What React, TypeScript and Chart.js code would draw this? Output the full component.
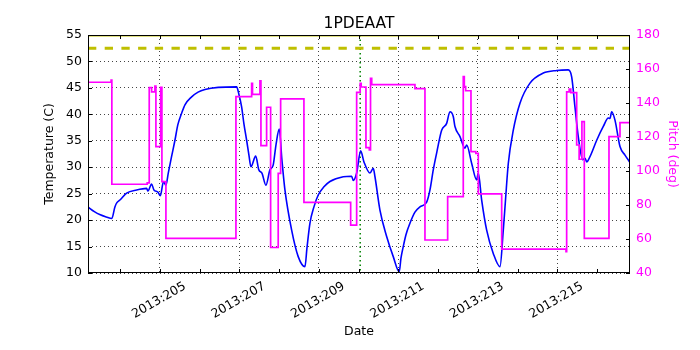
import { useEffect, useRef } from 'react';
import { Chart, registerables } from 'chart.js';

Chart.register(...registerables);

// ---- data ----
const chartTitle = '1PDEAAT';
const xRange = [203.19, 216.83];
const majorDays = [205, 207, 209, 211, 213, 215];
const minorDays = [204, 205, 206, 207, 208, 209, 210, 211, 212, 213, 214, 215, 216];
const tempTicks = [10, 15, 20, 25, 30, 35, 40, 45, 50, 55];
const pitchTicks = [40, 60, 80, 100, 120, 140, 160, 180];
const limitSolid = [55];
const limitDashed = [52.5];
const markerDays = [210.04];

const tempDays = [
  203.188, 203.35, 203.5, 203.65, 203.79, 203.867, 203.918, 203.993, 204.162, 204.414,
  204.665, 204.698, 204.791, 204.849, 204.95, 205.01, 205.09, 205.15, 205.21, 205.29,
  205.378, 205.45, 205.546, 205.63, 205.798, 205.96, 206.133, 206.467, 206.93, 206.99,
  207.056, 207.114, 207.182, 207.24, 207.29, 207.41, 207.49, 207.567, 207.668, 207.769,
  207.85, 207.92, 208.003, 208.07, 208.146, 208.315, 208.48, 208.65, 208.70, 208.775,
  208.876, 208.984, 209.128, 209.279, 209.614, 209.825, 209.866, 209.951, 210.052, 210.135,
  210.286, 210.369, 210.412, 210.537, 210.706, 210.872, 211.023, 211.066, 211.124, 211.19,
  211.292, 211.418, 211.544, 211.713, 211.796, 211.879, 211.97, 212.09, 212.216, 212.299,
  212.382, 212.425, 212.551, 212.677, 212.72, 212.846, 212.971, 213.012, 213.097, 213.223,
  213.389, 213.558, 213.641, 213.697, 213.767, 213.893, 214.061, 214.313, 214.648, 214.985,
  215.277, 215.362, 215.445, 215.528, 215.639, 215.697, 215.74, 215.823, 215.992, 216.158,
  216.284, 216.326, 216.369, 216.452, 216.578, 216.704, 216.83,
];
const tempValues = [
  22.5, 21.6, 21.0, 20.6, 20.3, 22.5, 23.3, 23.8, 25.1, 25.7,
  26.0, 25.5, 26.8, 25.7, 25.3, 24.6, 27.3, 26.6, 28.9, 31.9,
  35.1, 38.0, 40.2, 41.8, 43.3, 44.2, 44.7, 45.1, 45.2, 43.7,
  41.4, 38.2, 35.1, 32.3, 30.1, 32.1, 29.5, 28.9, 26.6, 29.5,
  30.4, 34.2, 37.2, 31.4, 25.7, 18.1, 13.1, 11.2, 14.7, 19.4,
  22.5, 24.75, 26.3, 27.3, 28.2, 28.3, 27.5, 28.9, 33.1, 31.0,
  28.9, 29.8, 28.2, 21.9, 16.9, 13.1, 10.25, 12.8, 15.0, 17.2,
  19.4, 21.5, 22.5, 23.4, 25.7, 29.5, 32.9, 37.0, 38.3, 40.5,
  39.6, 37.7, 35.8, 33.6, 34.2, 30.7, 27.6, 28.9, 23.8, 18.1,
  13.7, 11.2, 18.1, 23.8, 30.7, 37.0, 42.1, 45.9, 47.8, 48.3,
  48.4, 47.1, 41.4, 35.8, 31.4, 31.7, 31.0, 32.0, 35.1, 37.7,
  39.3, 39.2, 40.5, 38.9, 33.9, 32.3, 30.9,
];

const pitchDays = [
  203.188, 203.772, 203.79, 204.68, 204.731, 204.791, 204.874, 204.899, 205.018, 205.05,
  205.151, 206.913, 207.308, 207.33, 207.517, 207.542, 207.685, 207.786, 207.977, 208.038,
  208.624, 209.8, 209.951, 210.04, 210.065, 210.185, 210.27, 210.3, 210.33, 211.418,
  211.67, 212.241, 212.634, 212.66, 212.694, 212.828, 212.95, 213.012, 213.601, 215.22,
  215.236, 215.3, 215.34, 215.488, 215.55, 215.62, 215.68, 216.301, 216.578, 216.83,
];
const pitchValues = [
  152.2, 153.5, 92.2, 93.0, 149.0, 146.6, 150.0, 114.3, 149.2, 93.7,
  60.4, 143.7, 151.6, 145.1, 153.0, 114.9, 137.5, 55.0, 98.6, 142.4,
  81.5, 68.2, 146.3, 151.6, 149.4, 113.8, 112.4, 154.5, 150.8, 148.4,
  59.4, 84.9, 155.5, 149.6, 147.2, 111.4, 110.4, 86.5, 54.1, 52.5,
  146.6, 148.2, 146.1, 115.3, 106.9, 129.0, 60.4, 120.2, 128.4, 128.4,
];

const FONT = 'DejaVu Sans';

const decorPlugin = {
  id: 'decor',
  beforeDatasetsDraw(chart: any) {
    const { ctx, chartArea: a, scales } = chart;
    const x = scales.x;
    ctx.save();
    ctx.strokeStyle = '#008000';
    ctx.lineWidth = 1.5;
    ctx.setLineDash([1.5, 3]);
    markerDays.forEach((d) => {
      const px = x.getPixelForValue(d);
      ctx.beginPath();
      ctx.moveTo(px, a.top);
      ctx.lineTo(px, a.bottom);
      ctx.stroke();
    });
    ctx.restore();
  },
  afterDatasetsDraw(chart: any) {
    const { ctx, chartArea: a, scales } = chart;
    ctx.save();
    ctx.strokeStyle = '#000';
    ctx.lineWidth = 1;
    ctx.setLineDash([]);
    ctx.strokeRect(Math.round(a.left) + 0.5, Math.round(a.top) + 0.5, Math.round(a.right - a.left) - 1, Math.round(a.bottom - a.top) - 1);
    const tl = 4;
    ctx.beginPath();
    minorDays.forEach((d) => {
      const px = Math.round(scales.x.getPixelForValue(d)) + 0.5;
      ctx.moveTo(px, a.bottom);
      ctx.lineTo(px, a.bottom - tl);
      ctx.moveTo(px, a.top);
      ctx.lineTo(px, a.top + tl);
    });
    tempTicks.forEach((v) => {
      const py = Math.round(scales.y.getPixelForValue(v)) + 0.5;
      ctx.moveTo(a.left, py);
      ctx.lineTo(a.left + tl, py);
    });
    pitchTicks.forEach((v) => {
      const py = Math.round(scales.y2.getPixelForValue(v)) + 0.5;
      ctx.moveTo(a.right, py);
      ctx.lineTo(a.right - tl, py);
    });
    ctx.stroke();
    // title
    ctx.fillStyle = '#000';
    ctx.font = `15.5px "${FONT}"`;
    ctx.textAlign = 'center';
    ctx.textBaseline = 'alphabetic';
    ctx.fillText(chartTitle, (a.left + a.right) / 2, 28.3);
    ctx.restore();
  },
};

export default function App() {
  const ref = useRef<HTMLCanvasElement | null>(null);

  useEffect(() => {
    document.body.style.margin = '0';
    const canvas = ref.current;
    if (!canvas) return;
    const xMin = xRange[0];
    const xMax = xRange[1];
    const chart = new Chart(canvas, {
      type: 'line',
      data: {
        datasets: [
          {
            label: 'Pitch',
            data: pitchDays.map((d, i) => ({ x: d, y: pitchValues[i] })),
            yAxisID: 'y2',
            borderColor: '#ff00ff',
            borderWidth: 1.7,
            pointRadius: 0,
            stepped: 'before',
            fill: false,
          },
          {
            label: 'Temperature',
            data: tempDays.map((d, i) => ({ x: d, y: tempValues[i] })),
            yAxisID: 'y',
            borderColor: '#0000ff',
            borderWidth: 1.6,
            pointRadius: 0,
            cubicInterpolationMode: 'monotone',
            fill: false,
          },
          {
            label: 'limit',
            data: limitSolid.flatMap((v) => [{ x: xMin, y: v }, { x: xMax, y: v }]),
            yAxisID: 'y',
            borderColor: '#bfbf00',
            borderWidth: 3,
            pointRadius: 0,
            fill: false,
          },
          {
            label: 'limit dashed',
            data: limitDashed.flatMap((v) => [{ x: xMin, y: v }, { x: xMax, y: v }]),
            yAxisID: 'y',
            borderColor: '#bfbf00',
            borderWidth: 3,
            borderDash: [8.3, 8.4],
            pointRadius: 0,
            fill: false,
          },
        ],
      },
      options: {
        animation: false,
        responsive: false,
        maintainAspectRatio: false,
        events: [],
        layout: { padding: { top: 35, left: 0, right: 0, bottom: 0 } },
        plugins: {
          legend: { display: false },
          tooltip: { enabled: false },
          title: { display: false },
        },
        scales: {
          x: {
            type: 'linear',
            min: xMin,
            max: xMax,
            afterBuildTicks: (s: any) => {
              s.ticks = majorDays.map((v) => ({ value: v }));
            },
            afterFit: (s: any) => {
              s.height = 77;
            },
            grid: { color: '#444', lineWidth: 1, drawTicks: false, tickBorderDash: [] },
            border: { display: false, dash: [1, 3] },
            ticks: {
              autoSkip: false,
              minRotation: 30,
              maxRotation: 30,
              padding: 6,
              labelOffset: 25,
              color: '#000',
              font: { family: FONT, size: 12.5 },
              callback: (v: any) => '2013:' + String(Math.round(Number(v))),
            },
            title: {
              display: true,
              text: 'Date',
              color: '#000',
              font: { family: FONT, size: 12.5 },
              padding: { top: 0, bottom: 10.5 },
            },
          },
          y: {
            type: 'linear',
            position: 'left',
            min: 10,
            max: 55,
            afterBuildTicks: (s: any) => {
              s.ticks = tempTicks.map((v) => ({ value: v }));
            },
            afterFit: (s: any) => {
              s.width = 88;
            },
            grid: { color: '#444', lineWidth: 1, drawTicks: false, tickBorderDash: [] },
            border: { display: false, dash: [1, 3] },
            ticks: {
              padding: 6,
              color: '#000',
              font: { family: FONT, size: 12.5 },
            },
            title: {
              display: true,
              text: 'Temperature (C)',
              color: '#000',
              font: { family: FONT, size: 12.5 },
              padding: { top: 42.5, bottom: 0 },
            },
          },
          y2: {
            type: 'linear',
            position: 'right',
            min: 40,
            max: 180,
            afterBuildTicks: (s: any) => {
              s.ticks = pitchTicks.map((v) => ({ value: v }));
            },
            afterFit: (s: any) => {
              s.width = 70;
            },
            grid: { display: false, drawTicks: false },
            border: { display: false },
            ticks: {
              padding: 6,
              color: '#ff00ff',
              font: { family: FONT, size: 12.5 },
            },
            title: {
              display: true,
              text: 'Pitch (deg)',
              color: '#ff00ff',
              font: { family: FONT, size: 12.5 },
              padding: { top: 20, bottom: 0 },
            },
          },
        },
      },
      plugins: [decorPlugin],
    } as any);
    return () => chart.destroy();
  }, []);

  return (
    <div style={{ position: 'absolute', left: 0, top: 0, width: 700, height: 350, background: '#fff' }}>
      <canvas ref={ref} width={700} height={350} style={{ width: 700, height: 350 }} />
    </div>
  );
}
